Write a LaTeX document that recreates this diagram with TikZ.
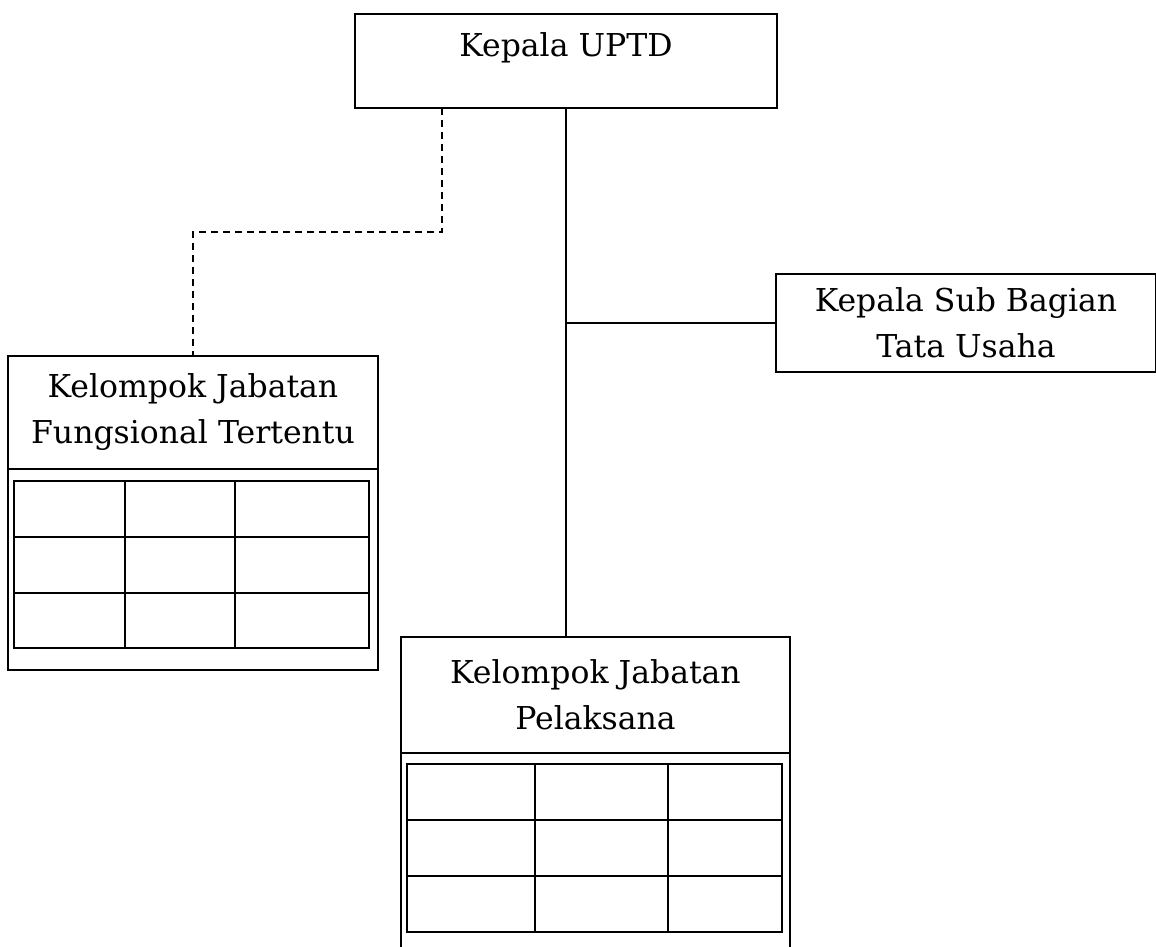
\documentclass[tikz,border=0pt]{standalone}
\usepackage{fontspec}
\setmainfont{DejaVu Serif}
\usetikzlibrary{positioning}

\begin{document}
\begin{tikzpicture}[x=1pt,y=-1pt,
  huruf/.style={font=\fontsize{31.5}{46}\selectfont},
  kotak/.style={draw,line width=1.4pt,inner sep=0pt,align=center,huruf},
  garis/.style={line width=1.4pt},
  putus/.style={line width=1.3pt,dash pattern=on 7pt off 5pt},
  tabel/.style={line width=2.4pt}]
\useasboundingbox (0,0) rectangle (1156,947);

\node[kotak,minimum width=422pt,minimum height=94pt] (uptd) at (566,61) {};
\node[huruf,inner sep=0pt,anchor=base] (uptdteks) at (566,57) {Kepala UPTD};

\node[kotak,minimum width=380pt,minimum height=98pt] (tatausaha) at (966,323) {Kepala Sub Bagian\\Tata Usaha};

\node[kotak,minimum width=370pt,minimum height=314pt] (fungsional) at (193,513) {};
\node[kotak,minimum width=370pt,minimum height=113pt,anchor=north] (fungsionalkepala) at (fungsional.north) {Kelompok Jabatan\\Fungsional Tertentu};
\draw[tabel] (14,481) rectangle (369,648);
\foreach \x in {125,235} \draw[tabel] (\x,481) -- (\x,648);
\foreach \y in {537,593} \draw[tabel] (14,\y) -- (369,\y);

\node[kotak,minimum width=389pt,minimum height=318pt] (pelaksana) at (595.5,796) {};
\node[kotak,minimum width=389pt,minimum height=116pt,anchor=north] (pelaksanakepala) at (pelaksana.north) {Kelompok Jabatan\\Pelaksana};
\draw[tabel] (407,764) rectangle (782,932);
\foreach \x in {535,668} \draw[tabel] (\x,764) -- (\x,932);
\foreach \y in {820,876} \draw[tabel] (407,\y) -- (782,\y);

\draw[garis] (uptd.south) -- (uptd.south |- pelaksana.north);
\coordinate (cabang) at (uptd.south |- tatausaha.west);
\draw[garis] (cabang) -- (tatausaha.west);

\coordinate (putusawal) at (442,108);
\coordinate (putusbelok) at (442,232);
\draw[putus] (putusawal) -- (putusbelok) -| (fungsionalkepala.north);
\end{tikzpicture}
\end{document}
